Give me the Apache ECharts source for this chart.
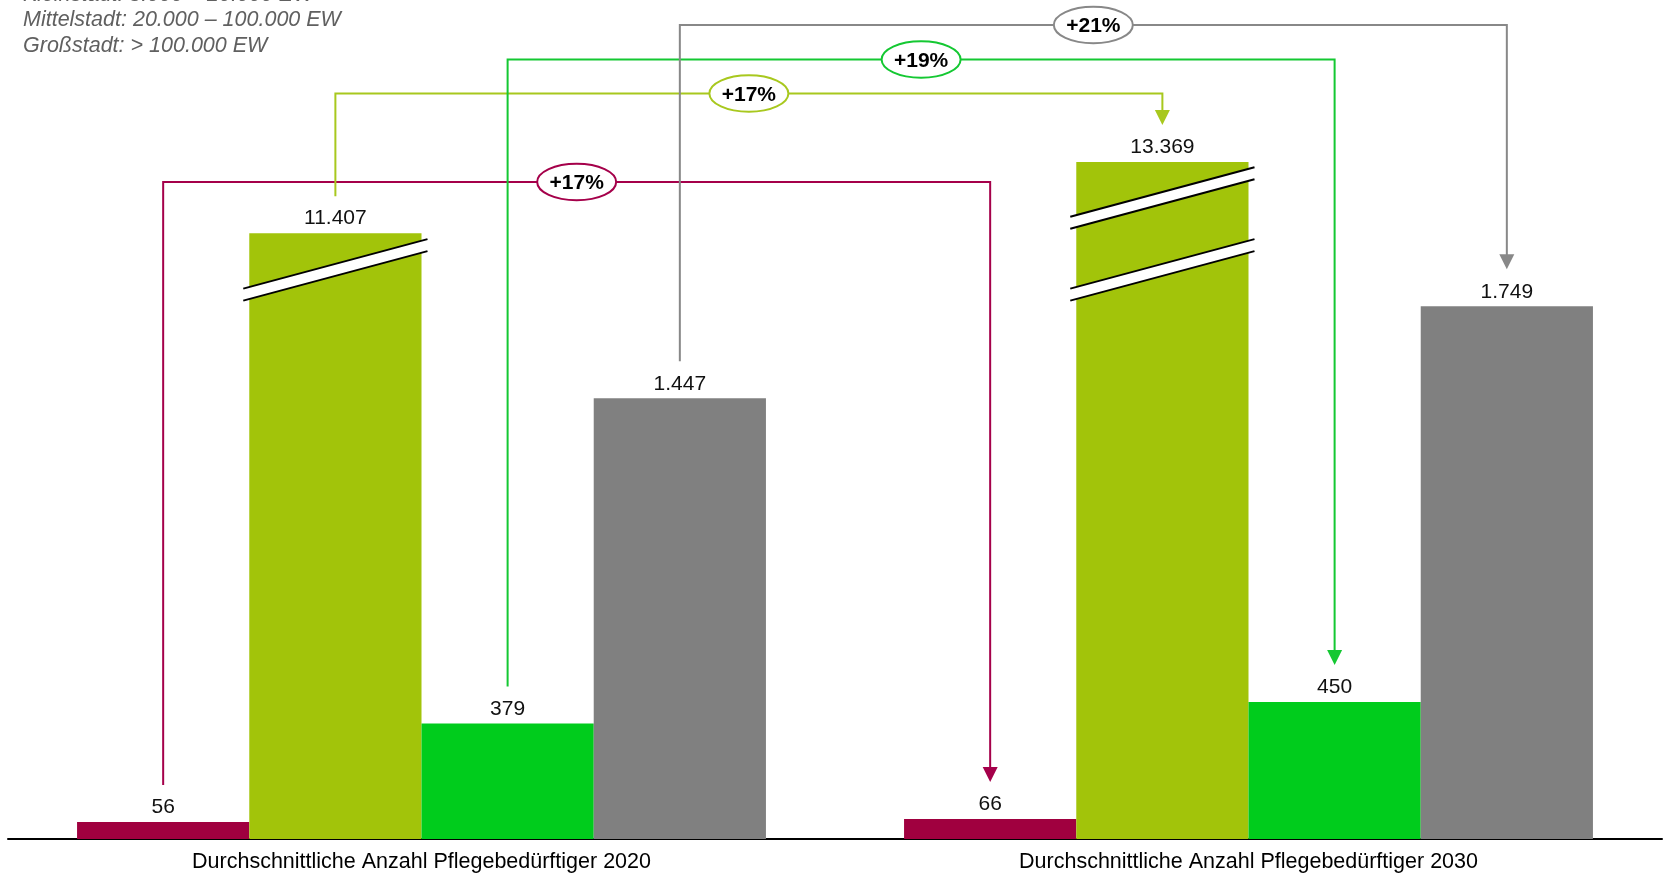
<!DOCTYPE html>
<html>
<head>
<meta charset="utf-8">
<script src="https://cdn.jsdelivr.net/npm/echarts@6.0.0/dist/echarts.min.js"></script>
<style>
html,body{margin:0;padding:0;background:#fff;}
#c{width:1665px;height:873px;}
</style>
</head>
<body>
<div id="c"></div>
<script>
// ---- data ----
const categories = ['Durchschnittliche Anzahl Pflegebedürftiger 2020', 'Durchschnittliche Anzahl Pflegebedürftiger 2030'];
const seriesNames = ['Landgemeinde', 'Kleinstadt', 'Mittelstadt', 'Großstadt'];
const landgemeinde = [56, 66];
const kleinstadt = [11407, 13369];
const mittelstadt = [379, 450];
const grossstadt = [1447, 1749];
const changeLabels = ['+17%', '+17%', '+19%', '+21%'];
const noteLines = ['Kleinstadt: 5.000 – 20.000 EW', 'Mittelstadt: 20.000 – 100.000 EW', 'Großstadt: > 100.000 EW'];
const axisBreaks = [[1849, 11306], [11503, 13270]];

// ---- style ----
const FONT = "'Liberation Sans', Arial, Helvetica, sans-serif";
const barColors = ['#A0003F', '#A2C40A', '#00CC1C', '#808080'];
const lineColors = ['#A5004A', '#A8C81E', '#14C832', '#888888'];
const connectorLevels = [182, 93.5, 59.5, 25]; // pixel heights of the arrow rails
const seriesValues = [landgemeinde, kleinstadt, mittelstadt, grossstadt];

function fmt(v) { return String(v).replace(/\B(?=(\d{3})+(?!\d))/g, '.'); }

const chart = echarts.init(document.getElementById('c'), null, { renderer: 'canvas' });

const option = {
  animation: false,
  backgroundColor: '#ffffff',
  grid: { left: 8, right: 3, top: 122, bottom: 33, containLabel: false },
  xAxis: {
    type: 'category',
    data: categories,
    axisLine: { lineStyle: { color: '#000', width: 2 } },
    axisTick: { show: false },
    axisLabel: { fontSize: 21.5, color: '#000', fontFamily: FONT, margin: 12, interval: 0 }
  },
  yAxis: {
    type: 'value',
    min: 0,
    max: 13500,
    axisLine: { show: false },
    axisTick: { show: false },
    axisLabel: { show: false },
    splitLine: { show: false },
    breaks: axisBreaks.map(b => ({ start: b[0], end: b[1], gap: 39 })),
    breakArea: { show: false }
  },
  series: seriesNames.map((name, i) => ({
    name: name,
    type: 'bar',
    data: seriesValues[i],
    barGap: '0%',
    barCategoryGap: '16.7%',
    itemStyle: { color: barColors[i] },
    label: {
      show: true, position: 'top', distance: 4,
      fontSize: 21, color: '#111', fontFamily: FONT,
      formatter: p => fmt(p.value)
    }
  }))
};
chart.setOption(option);

function barLayout(si, di) {
  const data = chart.getModel().getSeriesByIndex(si).getData();
  const l = data.getItemLayout(di);
  return { x: l.x, w: l.width, cx: l.x + l.width / 2, top: Math.min(l.y, l.y + l.height) };
}
function py(v) { return chart.convertToPixel({ yAxisIndex: 0 }, v); }

const g = [];

// note lines (top left, first one partially clipped)
const noteBase = [2.2, 27.3, 54];
noteLines.forEach((t, i) => {
  g.push({
    type: 'text', x: 23, y: noteBase[i] - 7.5, z: 50,
    style: { text: t, font: 'italic 21.5px ' + FONT, fill: '#606060', textVerticalAlign: 'middle', verticalAlign: 'middle' }
  });
});

// break marks on bars that cross a break
const slope = -0.2686;
seriesValues.forEach((vals, si) => {
  vals.forEach((v, di) => {
    axisBreaks.forEach(b => {
      if (v > b[1]) {
        const L = barLayout(si, di);
        const yc = (py(b[0]) + py(b[1])) / 2;
        const xl = L.x - 6, xr = L.x + L.w + 6;
        const yAt = (x, off) => yc + off + slope * (x - L.cx);
        g.push({ type: 'polygon', z: 60, shape: { points: [[xl, yAt(xl, -6)], [xr, yAt(xr, -6)], [xr, yAt(xr, 6)], [xl, yAt(xl, 6)]] }, style: { fill: '#fff', stroke: null } });
        g.push({ type: 'line', z: 61, shape: { x1: xl, y1: yAt(xl, -6), x2: xr, y2: yAt(xr, -6) }, style: { stroke: '#000', lineWidth: 2 } });
        g.push({ type: 'line', z: 61, shape: { x1: xl, y1: yAt(xl, 6), x2: xr, y2: yAt(xr, 6) }, style: { stroke: '#000', lineWidth: 2 } });
      }
    });
  });
});

// connectors with arrows and change ellipses
seriesValues.forEach((vals, si) => {
  const a = barLayout(si, 0), b = barLayout(si, 1);
  const y0 = a.top - 37, y1 = b.top - 37, L = connectorLevels[si];
  const col = lineColors[si];
  const z = 70 + si * 3;
  g.push({ type: 'polyline', z: z, shape: { points: [[a.cx, y0], [a.cx, L], [b.cx, L], [b.cx, y1 - 14]] }, style: { stroke: col, lineWidth: 2, fill: null } });
  g.push({ type: 'polygon', z: z, shape: { points: [[b.cx - 7.5, y1 - 15], [b.cx + 7.5, y1 - 15], [b.cx, y1]] }, style: { fill: col } });
  const mx = (a.cx + b.cx) / 2;
  g.push({ type: 'ellipse', z: z + 1, shape: { cx: mx, cy: L, rx: 39.5, ry: 18.3 }, style: { fill: '#fff', stroke: col, lineWidth: 2 } });
  g.push({ type: 'text', z: z + 2, x: mx, y: L + 1.5, style: { text: changeLabels[si], font: 'bold 21px ' + FONT, fill: '#000', textAlign: 'center', textVerticalAlign: 'middle', align: 'center', verticalAlign: 'middle' } });
});

chart.setOption({ graphic: { elements: g } });
</script>
</body>
</html>
